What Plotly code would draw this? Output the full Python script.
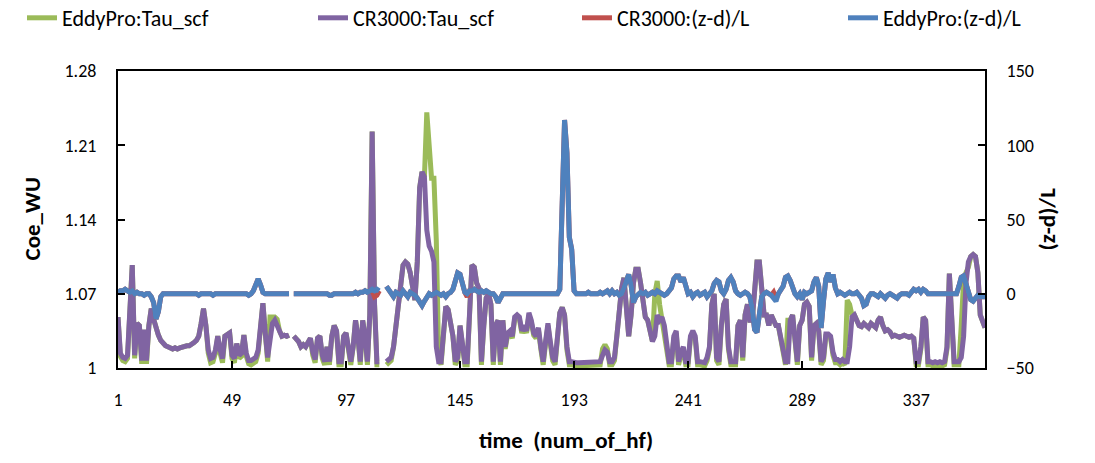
import plotly.graph_objects as go

N = None
time_idx = list(range(1, 367))
x_tick_vals = [1, 49, 97, 145, 193, 241, 289, 337]
y_left_ticks = [1, 1.07, 1.14, 1.21, 1.28]
y_left_text = ["1", "1.07", "1.14", "1.21", "1.28"]
y_right_ticks = [-50, 0, 50, 100, 150]

cr_tau = [
    1.048, 1.014, 1.010, 1.009, 1.012, 1.058, 1.097, 1.012, 1.042, 1.040,
    1.007, 1.036, 1.007, 1.040, 1.056, 1.046, 1.036, 1.031, 1.026, 1.023,
    1.021, 1.020, 1.019, 1.018, 1.019, 1.018, 1.019, 1.020, 1.020, 1.021,
    1.021, 1.022, 1.024, 1.026, 1.030, 1.042, 1.056, 1.040, 1.017, 1.009,
    1.010, 1.017, 1.030, 1.017, 1.009, 1.030, 1.031, 1.033, 1.012, 1.009,
    1.023, 1.012, 1.014, 1.031, 1.014, 1.007, 1.007, 1.009, 1.010, 1.017,
    1.040, 1.061, 1.033, 1.010, 1.026, 1.042, 1.045, 1.040, 1.033, 1.030,
    1.031, 1.030, 1.031, N, 1.030, 1.028, 1.025, 1.020, 1.022, 1.020,
    1.025, 1.028, 1.015, 1.008, 1.028, 1.030, 1.012, 1.006, 1.020, 1.006,
    1.030, 1.040, 1.035, 1.006, 1.006, 1.030, 1.033, 1.020, 1.006, 1.020,
    1.045, 1.030, 1.006, 1.045, 1.030, 1.006, 1.050, 1.223, 1.060, 1.006,
    1.006, N, N, 1.006, 1.008, 1.010, 1.020, 1.040, 1.065, 1.085,
    1.097, 1.100, 1.098, 1.090, 1.075, 1.064, 1.100, 1.170, 1.185, 1.180,
    1.130, 1.115, 1.110, 1.100, 1.020, 1.006, 1.006, 1.030, 1.058, 1.055,
    1.040, 1.030, 1.006, 1.010, 1.040, 1.020, 1.006, 1.006, 1.060, 1.097,
    1.095, 1.080, 1.075, 1.006, 1.040, 1.066, 1.070, 1.060, 1.006, 1.040,
    1.045, 1.006, 1.045, 1.020, 1.033, 1.035, 1.030, 1.048, 1.050, 1.048,
    1.035, 1.040, 1.035, 1.052, 1.045, 1.033, 1.030, 1.038, 1.020, 1.006,
    1.025, 1.042, 1.025, 1.010, 1.006, 1.030, 1.052, 1.057, 1.050, 1.020,
    1.006, 1.006, 1.005, 1.005, 1.005, 1.005, 1.005, 1.005, 1.005, 1.005,
    1.005, 1.005, 1.005, 1.006, 1.012, 1.017, 1.015, 1.006, 1.006, 1.010,
    1.030, 1.060, 1.075, 1.085, 1.050, 1.030, 1.050, 1.080, 1.093, 1.093,
    1.080, 1.060, 1.048, 1.045, 1.035, 1.025, 1.030, 1.050, 1.045, 1.048,
    1.040, 1.020, 1.006, 1.006, 1.030, 1.035, 1.006, 1.015, 1.020, 1.006,
    1.006, 1.030, 1.035, 1.030, 1.006, 1.006, 1.006, 1.005, 1.010, 1.020,
    1.060, 1.070, 1.010, 1.006, 1.040, 1.060, 1.065, 1.020, 1.006, 1.006,
    1.006, 1.040, 1.045, 1.010, 1.050, 1.060, 1.045, 1.045, 1.080, 1.100,
    1.100, 1.070, 1.050, 1.050, 1.040, 1.050, 1.045, 1.040, 1.040, 1.030,
    1.020, 1.006, 1.006, 1.045, 1.050, 1.030, 1.006, 1.040, 1.045, 1.060,
    1.062, 1.058, 1.010, 1.040, 1.042, 1.035, 1.006, 1.010, 1.032, 1.032,
    1.030, 1.015, 1.008, 1.008, 1.006, 1.008, 1.006, 1.006, 1.020, 1.048,
    1.050, 1.045, 1.040, 1.039, 1.042, 1.040, 1.038, 1.042, 1.040, 1.038,
    1.045, 1.048, 1.040, 1.035, 1.036, 1.034, 1.030, 1.031, 1.030, 1.029,
    1.030, 1.031, 1.030, 1.029, 1.030, 1.028, 1.006, 1.006, 1.020, 1.048,
    1.045, 1.006, 1.006, 1.005, 1.006, 1.005, 1.006, 1.005, 1.006, 1.020,
    1.089, 1.050, 1.006, 1.006, 1.006, 1.010, 1.030, 1.080, 1.100, 1.105,
    1.107, 1.105, 1.090, 1.050, 1.045, 1.038,
]

ep_tau = [
    1.048, 1.011, 1.007, 1.006, 1.009, 1.058, 1.097, 1.009, 1.042, 1.040,
    1.004, 1.036, 1.004, 1.040, 1.056, 1.046, 1.036, 1.031, 1.026, 1.023,
    1.021, 1.020, 1.019, 1.018, 1.019, 1.018, 1.019, 1.020, 1.020, 1.021,
    1.021, 1.022, 1.024, 1.026, 1.030, 1.042, 1.056, 1.040, 1.014, 1.005,
    1.006, 1.014, 1.030, 1.014, 1.005, 1.030, 1.031, 1.033, 1.009, 1.005,
    1.023, 1.009, 1.011, 1.031, 1.011, 1.004, 1.003, 1.005, 1.006, 1.014,
    1.040, 1.061, 1.033, 1.006, 1.048, 1.048, 1.048, 1.046, 1.035, 1.030,
    1.031, 1.030, 1.031, N, 1.030, 1.028, 1.025, 1.020, 1.022, 1.020,
    1.025, 1.028, 1.012, 1.005, 1.028, 1.030, 1.009, 1.003, 1.020, 1.003,
    1.030, 1.040, 1.035, 1.003, 1.003, 1.030, 1.033, 1.020, 1.003, 1.020,
    1.045, 1.030, 1.003, 1.045, 1.030, 1.003, 1.050, 1.223, 1.060, 1.003,
    1.003, N, N, 1.003, 1.005, 1.007, 1.020, 1.040, 1.065, 1.085,
    1.097, 1.100, 1.098, 1.090, 1.075, 1.064, 1.100, 1.170, 1.185, 1.180,
    1.241, 1.200, 1.179, 1.179, 1.120, 1.010, 1.003, 1.030, 1.058, 1.055,
    1.040, 1.030, 1.003, 1.007, 1.040, 1.020, 1.003, 1.003, 1.060, 1.097,
    1.095, 1.080, 1.075, 1.003, 1.040, 1.066, 1.070, 1.060, 1.003, 1.040,
    1.045, 1.003, 1.045, 1.018, 1.031, 1.033, 1.028, 1.046, 1.048, 1.046,
    1.033, 1.038, 1.033, 1.050, 1.043, 1.031, 1.028, 1.036, 1.018, 1.003,
    1.023, 1.040, 1.023, 1.007, 1.003, 1.030, 1.052, 1.057, 1.050, 1.017,
    1.003, 1.003, 1.002, 1.002, 1.002, 1.002, 1.002, 1.002, 1.002, 1.002,
    1.002, 1.002, 1.002, 1.003, 1.018, 1.022, 1.018, 1.003, 1.003, 1.007,
    1.030, 1.060, 1.075, 1.085, 1.050, 1.030, 1.050, 1.080, 1.093, 1.093,
    1.080, 1.060, 1.048, 1.045, 1.035, 1.025, 1.070, 1.082, 1.060, 1.046,
    1.038, 1.017, 1.003, 1.003, 1.028, 1.033, 1.003, 1.012, 1.017, 1.003,
    1.003, 1.028, 1.033, 1.028, 1.003, 1.003, 1.003, 1.002, 1.007, 1.018,
    1.060, 1.070, 1.007, 1.003, 1.040, 1.060, 1.065, 1.018, 1.003, 1.003,
    1.003, 1.040, 1.045, 1.007, 1.050, 1.060, 1.045, 1.045, 1.080, 1.100,
    1.100, 1.070, 1.050, 1.050, 1.040, 1.050, 1.045, 1.040, 1.040, 1.028,
    1.017, 1.003, 1.045, 1.045, 1.050, 1.028, 1.003, 1.040, 1.045, 1.060,
    1.062, 1.058, 1.007, 1.040, 1.042, 1.035, 1.003, 1.007, 1.030, 1.030,
    1.028, 1.012, 1.005, 1.005, 1.003, 1.005, 1.003, 1.064, 1.060, 1.050,
    1.050, 1.045, 1.040, 1.039, 1.042, 1.040, 1.038, 1.042, 1.040, 1.038,
    1.045, 1.048, 1.040, 1.035, 1.036, 1.034, 1.030, 1.031, 1.030, 1.029,
    1.030, 1.031, 1.030, 1.029, 1.030, 1.028, 1.003, 1.003, 1.018, 1.048,
    1.045, 1.003, 1.003, 1.002, 1.003, 1.002, 1.003, 1.002, 1.003, 1.018,
    1.089, 1.050, 1.003, 1.003, 1.003, 1.040, 1.083, 1.090, 1.095, 1.105,
    1.107, 1.105, 1.090, 1.050, 1.045, 1.038,
]

ep_zl = [
    1, 2, 2, 3, 2, 1, 2, 0, 1, 0,
    0, -1, 0, 0, -2, -6, -17, -12, -2, 0,
    0, 0, 0, 0, 0, 0, 0, 0, 0, 0,
    0, 0, 0, 0, -1, 0, 0, 0, 0, 0,
    -1, 0, 0, 0, 0, 0, 0, 0, 0, 0,
    0, 0, 0, 0, 0, -1, 0, 2, 7, 10,
    6, 1, 0, 0, 0, 0, 0, 0, 0, 0,
    0, 0, 0, N, 0, 0, 0, 0, 0, 0,
    0, 0, 0, 0, 0, 0, 0, 0, 0, -1,
    -1, 0, 0, 0, 0, 0, 0, 0, 0, 0,
    1, 0, 1, 1, 2, 1, 2, 3, 2, 3,
    2, N, N, 5, 3, 0, -2, 1, 0, -1,
    2, 0, -2, 1, 0, -1, -3, -6, -8, -5,
    -2, 0, -1, 0, 1, 0, -1, 0, -2, 0,
    1, 3, 8, 14, 13, 6, 1, 0, 2, 2,
    3, 2, 1, 2, 1, 2, 1, 0, 0, -2,
    -6, -2, 0, 0, 0, 0, 0, 0, 0, 0,
    0, 0, 0, 0, 0, 0, 0, 0, 0, 0,
    0, 0, 0, 0, 0, 0, 3, 50, 117, 95,
    38, 30, 2, 0, 0, 0, 0, 0, 1, 0,
    0, 0, 0, 1, 0, 1, 2, 0, 2, 0,
    1, -1, 0, 4, 10, 13, 6, -6, -2, 0,
    1, 0, 1, -1, 0, 1, 0, 2, 1, 0,
    -1, 0, 2, 4, 10, 12, 12, 8, 11, 4,
    0, 1, -2, 0, 1, -1, 0, 1, -2, 0,
    2, 7, 9, 8, 2, 0, 3, 9, 11, 8,
    2, 0, -1, 0, 1, 0, -2, -10, -24, -26,
    -10, -2, 0, 1, 0, -1, -3, -5, 0, 2,
    5, 11, 12, 9, 3, 0, -2, 0, -4, 1,
    0, 1, 2, 8, 11, 5, -23, -5, 10, 14,
    8, 13, 4, 0, 1, 0, -1, 0, 1, 0,
    0, 1, -1, -3, -8, -7, -2, 0, 0, -1,
    -2, 0, -2, -3, -1, 0, -1, -2, -3, -1,
    0, 0, 0, -1, 1, 3, 2, 3, 1, 3,
    2, 0, 0, 0, 0, 0, 0, 0, 0, 0,
    0, 0, 0, 0, 5, 11, 12, 6, 0, -4,
    -5, -3, -1, -2, -2, -2,
]

cr_zl = [
    1, 2, 2, 3, 2, 1, 2, 0, 1, 0,
    0, -1, 0, 0, -2, -6, -17, -12, -2, 0,
    0, 0, 0, 0, 0, 0, 0, 0, 0, 0,
    0, 0, 0, 0, -1, 0, 0, 0, 0, 0,
    -1, 0, 0, 0, 0, 0, 0, 0, 0, 0,
    0, 0, 0, 0, 0, -1, 0, 2, 7, 10,
    6, 1, 0, 0, 0, 0, 0, 0, 0, 0,
    0, 0, 0, N, 0, 0, 0, 0, 0, 0,
    0, 0, 0, 0, 0, 0, 0, 0, 0, -1,
    -1, 0, 0, 0, 0, 0, 0, 0, 0, 0,
    1, 0, 1, 1, 2, 1, 2, 2, -2, -1,
    2, N, N, 5, 3, 0, -2, 1, 0, -1,
    2, 0, -2, 1, 0, -1, -3, -6, -8, -5,
    -2, 0, -1, 0, 1, 0, -1, 0, -2, 0,
    1, 3, 8, 14, 13, 6, 1, -2, 2, 2,
    3, 2, 1, 2, 1, 2, 1, 0, 0, -2,
    -6, -2, 0, 0, 0, 0, 0, 0, 0, 0,
    0, 0, 0, 0, 0, 0, 0, 0, 0, 0,
    0, 0, 0, 0, 0, 0, 3, 50, 117, 95,
    38, 30, 2, 0, 0, 0, 0, 0, 1, 0,
    0, 0, 0, 1, 0, 1, 2, 0, 2, 0,
    1, -1, 0, 4, 10, 13, 6, -6, -2, 0,
    1, 0, 1, -1, 0, 1, 0, 2, 1, 0,
    -1, 0, 2, 4, 10, 12, 12, 8, 11, 4,
    0, 1, -2, 0, 1, -1, 0, 1, -2, 0,
    2, 7, 9, 8, 2, 0, 3, 9, 11, 8,
    2, 0, -1, 0, 1, 0, -2, -10, -24, -26,
    -10, -2, 0, 1, 0, -1, 1, -3, 0, 2,
    5, 11, 12, 9, 3, 0, -2, 0, -4, 1,
    0, 1, 2, 8, 11, 5, -23, -5, 10, 14,
    8, 13, 4, 0, 1, 0, -1, 0, 1, 0,
    0, 1, -1, -3, -8, -7, -2, 0, 0, -1,
    -2, 0, -2, -3, -1, 0, -1, -2, -3, -1,
    0, 0, 0, -1, 1, 3, 2, 3, 1, 3,
    2, 0, 0, 0, 0, 0, 0, 0, 0, 0,
    0, 0, 0, 0, 5, 11, 12, 6, 0, -4,
    -5, -3, -1, -2, -2, -2,
]

FONT = "Carlito, 'Liberation Sans Narrow', 'DejaVu Sans Condensed', sans-serif"
W, H = 1095, 463
L, R, T, B = 118, 110, 71, 95
PW = W - L - R
PH = H - T - B


def px_x(px):
    return (px - L) / PW


def px_y(py):
    return 1 + (T - py) / PH


fig = go.Figure()
series = [
    ("EddyPro:Tau_scf", ep_tau, "#9BBB59", "y", "legend", 27),
    ("CR3000:Tau_scf", cr_tau, "#8064A2", "y", "legend2", 318),
    ("CR3000:(z-d)/L", cr_zl, "#C0504D", "y2", "legend3", 582),
    ("EddyPro:(z-d)/L", ep_zl, "#4F81BD", "y2", "legend4", 848),
]
legend_layout = {}
for name, vals, col, yax, leg, lx in series:
    fig.add_trace(go.Scatter(
        x=time_idx, y=vals, name=name, mode="lines",
        line=dict(color=col, width=5), yaxis=yax, legend=leg,
        connectgaps=False, showlegend=True,
    ))
    legend_layout[leg] = dict(
        xref="container", yref="container",
        x=(lx - 5) / W, y=1 - 18 / H, xanchor="left", yanchor="middle",
        orientation="h", itemwidth=30, bgcolor="rgba(0,0,0,0)",
        font=dict(family=FONT, size=22, color="#000000"),
    )

axis_common = dict(
    showgrid=False, zeroline=False, showline=True, linecolor="#000000",
    linewidth=2, ticks="inside", ticklen=7, tickwidth=2, tickcolor="#000000",
    tickfont=dict(family=FONT, size=18, color="#000000"),
)

fig.update_layout(
    width=W, height=H,
    margin=dict(l=L, r=R, t=T, b=B, pad=0, autoexpand=False),
    paper_bgcolor="white", plot_bgcolor="white",
    xaxis=dict(range=[1, 366], tickvals=x_tick_vals, mirror=True,
               ticklabelstandoff=14, automargin=False, **axis_common),
    yaxis=dict(range=[1, 1.28], tickvals=y_left_ticks, ticktext=y_left_text,
               ticklabelstandoff=16, automargin=False, **axis_common),
    yaxis2=dict(range=[-50, 150], tickvals=y_right_ticks, overlaying="y",
                side="right", ticklabelstandoff=16, automargin=False,
                **axis_common),
    annotations=[
        dict(text="<b>Coe_WU</b>", xref="paper", yref="paper",
             x=px_x(31), y=0.5, xanchor="center", yanchor="middle",
             textangle=-90, showarrow=False,
             font=dict(family=FONT, size=23, color="#000000")),
        dict(text="<b>(z-d)/L</b>", xref="paper", yref="paper",
             x=px_x(1046), y=0.5, xanchor="center", yanchor="middle",
             textangle=-90, showarrow=False,
             font=dict(family=FONT, size=23, color="#000000")),
        dict(text="<b>time  (num_of_hf)</b>", xref="paper", yref="paper",
             x=px_x(566), y=px_y(440), xanchor="center", yanchor="middle",
             showarrow=False,
             font=dict(family=FONT, size=23, color="#000000")),
    ],
    **legend_layout,
)

fig.write_html("out.html")
